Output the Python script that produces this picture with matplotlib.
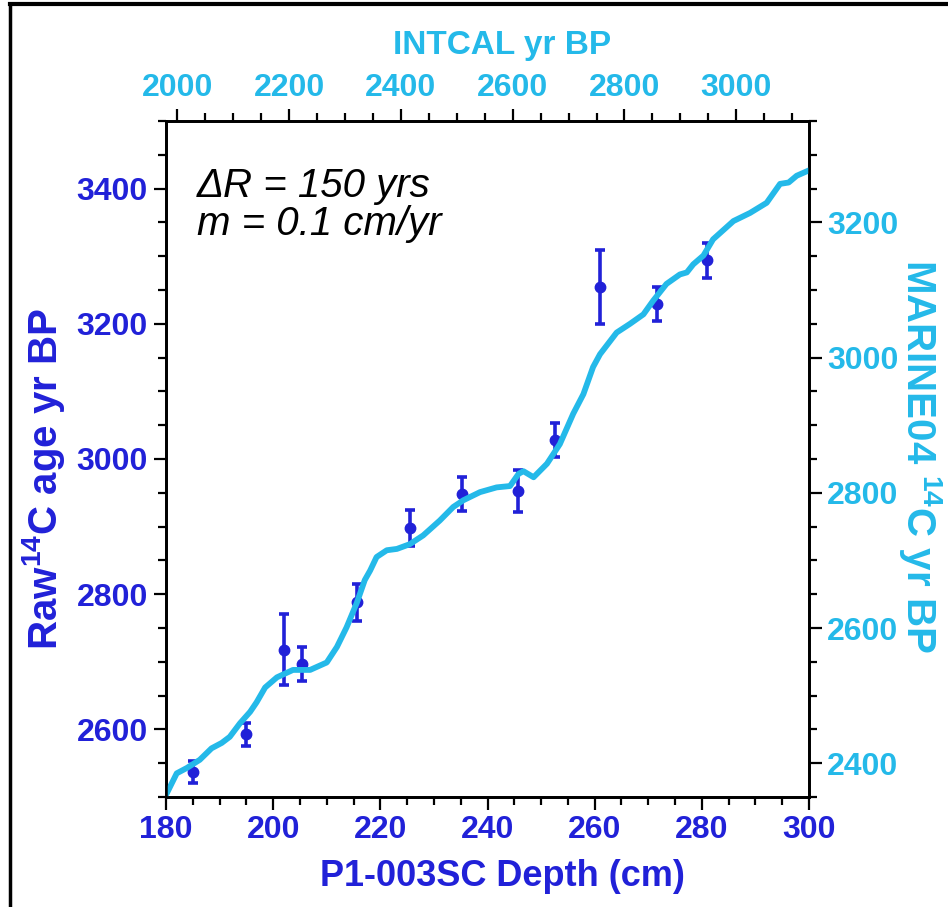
import numpy as np
import matplotlib
matplotlib.use('Agg')
import matplotlib.pyplot as plt
from matplotlib.lines import Line2D
from matplotlib.ticker import MultipleLocator

plt.rcParams['font.family'] = ['Liberation Sans', 'DejaVu Sans']
plt.rcParams['mathtext.fontset'] = 'custom'
plt.rcParams['mathtext.rm'] = 'Liberation Sans:bold'
plt.rcParams['mathtext.it'] = 'Liberation Sans:bold'
plt.rcParams['mathtext.bf'] = 'Liberation Sans:bold'

BLUE = '#2121d8'
CYAN = '#24b9e9'

# reservoir offset and sedimentation rate
delta_r = 150

# radiocarbon dates, core P1-003SC
depth = [185.0, 195.0, 202.0, 205.3, 215.6, 225.5, 235.3, 245.6, 252.6, 261.0, 271.6, 281.0]
raw_age = [2537, 2593, 2718, 2697, 2788, 2898, 2948, 2953, 3028, 3254, 3229, 3294]
age_err = [16, 17, 52, 25, 27, 26, 25, 31, 25, 55, 25, 26]

# MARINE04 curve mapped onto depth (in 14C yr BP)
curve_depth = [180.0, 182.0, 183.9, 186.3, 188.5, 190.4, 191.9, 193.8, 195.7, 196.9,
               198.5, 200.7, 203.7, 206.9, 210.0, 211.9, 213.7, 215.6, 217.1, 218.1,
               219.3, 221.2, 223.1, 225.5, 228.0, 231.1, 233.6, 235.5, 238.6, 241.7,
               244.2, 245.8, 246.7, 248.6, 251.1, 253.5, 256.0, 257.9, 259.7, 261.0,
               264.1, 266.6, 269.1, 270.9, 273.4, 275.9, 277.2, 278.4, 280.3, 282.1,
               285.9, 289.0, 292.1, 294.6, 296.2, 297.7, 300.0]
curve_marine = [2353, 2385, 2393, 2405, 2422, 2430, 2439, 2459, 2476, 2490,
                2512, 2527, 2538, 2538, 2549, 2572, 2601, 2637, 2671, 2685,
                2705, 2715, 2717, 2724, 2737, 2759, 2779, 2789, 2801, 2808,
                2810, 2828, 2832, 2823, 2843, 2872, 2917, 2946, 2986, 3005,
                3037, 3050, 3064, 3084, 3109, 3123, 3126, 3138, 3151, 3175,
                3202, 3214, 3229, 3257, 3259, 3269, 3277]

fig = plt.figure(figsize=(9.48, 9.07), dpi=100)
ax = fig.add_axes([166 / 948, 1 - 797 / 907, 643 / 948, 676 / 907])

ax.errorbar(depth, raw_age, yerr=age_err, fmt='o', color=BLUE, ms=7.5,
            elinewidth=2.6, capsize=3.8, capthick=2.6, zorder=2)
ax.set_xlim(180, 300)
ax.set_ylim(2500, 3500)

ax_r = ax.twinx()
ax_r.set_ylim(2500 - delta_r, 3500 - delta_r)
ax_r.plot(curve_depth, curve_marine, color=CYAN, lw=4.2, solid_capstyle='round', zorder=3)

ax_t = ax.twiny()
ax_t.set_xlim(1980, 3130)

ax.xaxis.set_major_locator(MultipleLocator(20))
ax.xaxis.set_minor_locator(MultipleLocator(5))
ax.yaxis.set_major_locator(MultipleLocator(200))
ax.yaxis.set_minor_locator(MultipleLocator(50))
ax_r.yaxis.set_major_locator(MultipleLocator(200))
ax_r.yaxis.set_minor_locator(MultipleLocator(50))
ax_t.xaxis.set_major_locator(MultipleLocator(200))
ax_t.xaxis.set_minor_locator(MultipleLocator(50))

for a in (ax, ax_r, ax_t):
    for s in a.spines.values():
        s.set_linewidth(1.8)
    a.tick_params(which='major', direction='out', length=9, width=1.6, labelsize=23, pad=4)
    a.tick_params(which='minor', direction='out', length=5.5, width=1.6)

ax.tick_params(axis='both', which='both', right=False, top=False)
ax.tick_params(axis='both', labelcolor=BLUE)
ax_r.tick_params(axis='y', labelcolor=CYAN)
ax_t.tick_params(axis='x', labelcolor=CYAN)
for a in (ax, ax_r, ax_t):
    for lbl in a.get_xticklabels() + a.get_yticklabels():
        lbl.set_fontweight('bold')

ax.set_xlabel('P1-003SC Depth (cm)', fontsize=26, fontweight='bold', color=BLUE)
ax.xaxis.set_label_coords(0.524, -0.092)
ax.set_ylabel(r'Raw$^{14}$C age yr BP', fontsize=29, fontweight='bold', color=BLUE,
              va='center')
ax.yaxis.set_label_coords(-0.19, 0.47)
ax_r.set_ylabel(r'MARINE04 $^{14}$C yr BP', fontsize=29, fontweight='bold', color=CYAN,
                rotation=-90, va='center')
ax_r.yaxis.set_label_coords(1.174, 0.505)
ax_t.set_xlabel('INTCAL yr BP', fontsize=24, fontweight='bold', color=CYAN)
ax_t.xaxis.set_label_coords(0.523, 1.099)

ax.text(0.048, 0.932, 'ΔR = 150 yrs\nm = 0.1 cm/yr', transform=ax.transAxes,
        fontsize=29, style='italic', color='black', va='top', ha='left', linespacing=1.0)

# frame lines along the left and top edges
fig.add_artist(Line2D([10 / 948, 10 / 948], [0, 1 - 4 / 907], transform=fig.transFigure,
                      color='black', lw=2.5))
fig.add_artist(Line2D([10 / 948, 1], [1 - 4 / 907, 1 - 4 / 907], transform=fig.transFigure,
                      color='black', lw=3))

fig.savefig('out.png', dpi=100)
